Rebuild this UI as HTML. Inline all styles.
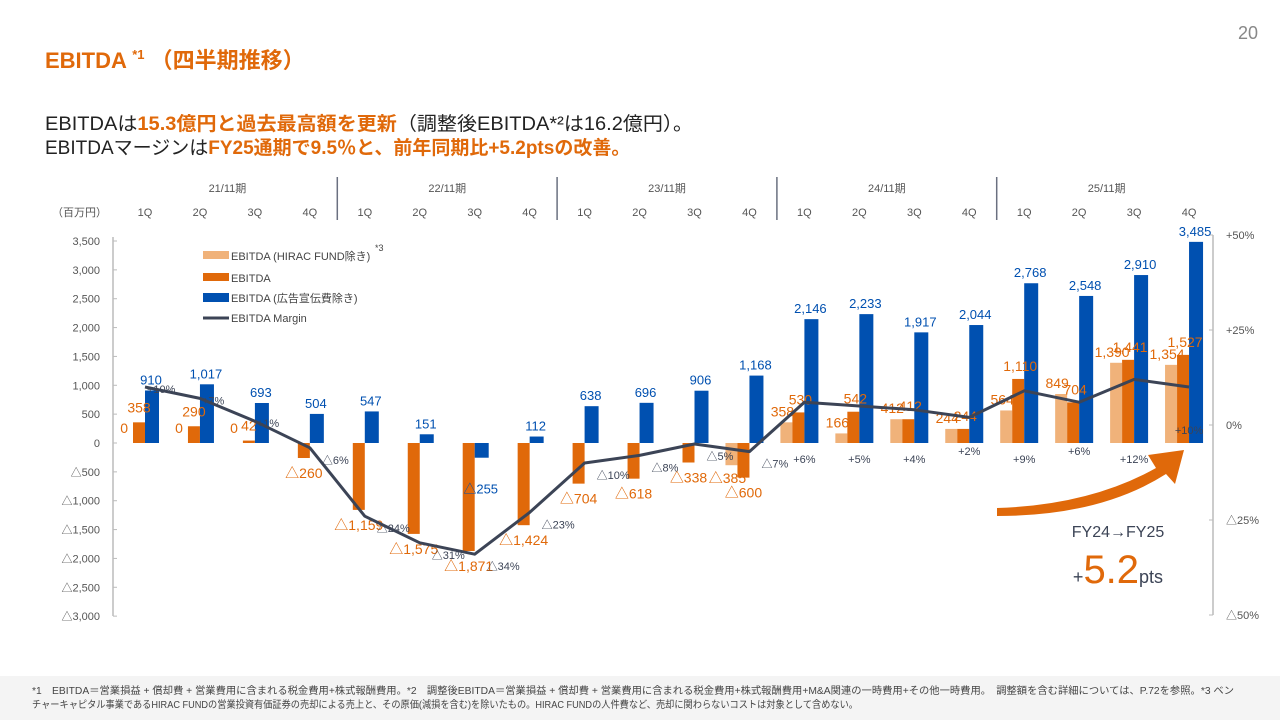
<!DOCTYPE html>
<html><head><meta charset="utf-8">
<style>
body{margin:0;width:1280px;height:720px;background:#fff;overflow:hidden;font-family:"Liberation Sans","Noto Sans CJK JP",sans-serif;}
svg text{font-family:"Liberation Sans","Noto Sans CJK JP",sans-serif;}
</style></head><body>
<svg id="c" width="1280" height="720">
<text x="1258" y="39" font-size="18" fill="#888" text-anchor="end">20</text>
<text x="45" y="68" font-size="22" font-weight="bold" fill="#e0690a">EBITDA <tspan font-size="13" dy="-9">*1</tspan><tspan dy="9"> （四半期推移）</tspan></text>
<text x="45" y="130" font-size="19" fill="#222" textLength="648" lengthAdjust="spacingAndGlyphs">EBITDAは<tspan fill="#e0690a" font-weight="bold">15.3億円と過去最高額を更新</tspan>（調整後EBITDA*²は16.2億円）。</text>
<text x="45" y="154" font-size="19" fill="#222">EBITDAマージンは<tspan fill="#e0690a" font-weight="bold">FY25通期で9.5％と、前年同期比+5.2ptsの改善。</tspan></text>
<g id="hdr"></g>
<g id="axes"></g>
<g id="marks"></g>
<g id="legend">
<rect x="203" y="251" width="26" height="8" fill="#f0b27a"/>
<text x="231" y="260" font-size="11" fill="#444">EBITDA (HIRAC FUND除き)</text>
<text x="375" y="251" font-size="9" fill="#444">*3</text>
<rect x="203" y="273" width="26" height="8" fill="#e0690a"/>
<text x="231" y="282" font-size="11" fill="#444">EBITDA</text>
<rect x="203" y="293" width="26" height="9" fill="#0050b0"/>
<text x="231" y="302" font-size="11" fill="#444">EBITDA (広告宣伝費除き)</text>
<line x1="203" y1="318" x2="229" y2="318" stroke="#3c4456" stroke-width="3"/>
<text x="231" y="322" font-size="11" fill="#444">EBITDA Margin</text>
</g>
<path d="M997,508 Q1090,505 1156,468 L1148,455 L1184,450 L1175,484 L1166,474 Q1100,516 997,516 Z" fill="#e0690a"/>
<text x="1118" y="537" font-size="16" fill="#3c4456" text-anchor="middle">FY24→FY25</text>
<text x="1118" y="583" text-anchor="middle" fill="#3c4456"><tspan font-size="18">+</tspan><tspan font-size="40" fill="#e0690a">5.2</tspan><tspan font-size="18">pts</tspan></text>
<rect x="0" y="676" width="1280" height="44" fill="#f4f4f4"/>
<text x="32" y="694" font-size="10" fill="#444" textLength="1202" lengthAdjust="spacingAndGlyphs">*1　EBITDA＝営業損益 + 償却費 + 営業費用に含まれる税金費用+株式報酬費用。*2　調整後EBITDA＝営業損益 + 償却費 + 営業費用に含まれる税金費用+株式報酬費用+M&amp;A関連の一時費用+その他一時費用。　調整額を含む詳細については、P.72を参照。*3 ベン</text>
<text x="32" y="708" font-size="10" fill="#444" textLength="826" lengthAdjust="spacingAndGlyphs">チャーキャピタル事業であるHIRAC FUNDの営業投資有価証券の売却による売上と、その原価(減損を含む)を除いたもの。HIRAC FUNDの人件費など、売却に関わらないコストは対象として含めない。</text>
</svg>
<script>
const periods=["21/11期","22/11期","23/11期","24/11期","25/11期"];
const quarters=["1Q","2Q","3Q","4Q"];
const ebitda=[358,290,42,-260,-1159,-1575,-1871,-1424,-704,-618,-338,-600,530,542,412,244,1110,704,1441,1527];
const ebitdaFund=[0,0,0,null,null,null,null,null,null,null,null,-385,358,166,412,244,564,849,1390,1354];
const ebitdaAdex=[910,1017,693,504,547,151,-255,112,638,696,906,1168,2146,2233,1917,2044,2768,2548,2910,3485];
const margin=[10,7,1,-6,-24,-31,-34,-23,-10,-8,-5,-7,6,5,4,2,9,6,12,10];
const leftTicks=[3500,3000,2500,2000,1500,1000,500,0,-500,-1000,-1500,-2000,-2500,-3000];
const rightTicks=[50,25,0,-25,-50];
const NS="http://www.w3.org/2000/svg";
function el(p,t,a){const e=document.createElementNS(NS,t);for(const k in a)e.setAttribute(k,a[k]);p.appendChild(e);return e;}
const xq=i=>145+i*54.95;
const yL=v=>443-v*(202/3500);
const yR=v=>425-v*3.8;
const fmt=v=>(v<0?"△":"")+Math.abs(v).toLocaleString("en-US");
const pct=v=>(v<0?"△":(v>0?"+":""))+Math.abs(v)+"%";
const hdr=document.getElementById("hdr"),ax=document.getElementById("axes"),mk=document.getElementById("marks");
periods.forEach((p,j)=>{
 const t=el(hdr,"text",{x:xq(j*4+1.5),y:192,"font-size":11,fill:"#555","text-anchor":"middle"});t.textContent=p;
 
 
 if(j>0){const l=el(hdr,"line",{x1:xq(j*4)-27.5,x2:xq(j*4)-27.5,y1:177,y2:220,stroke:"#6a7080","stroke-width":1.5});
 
 }
});
for(let i=0;i<20;i++){const t=el(hdr,"text",{x:xq(i),y:216,"font-size":11,fill:"#555","text-anchor":"middle"});t.textContent=quarters[i%4];
 
 }
const u=el(hdr,"text",{x:52,y:216,"font-size":11,fill:"#555"});u.textContent="（百万円）";


const la=el(ax,"line",{x1:113,x2:113,y1:237,y2:616,stroke:"#bbb","stroke-width":1.5});


leftTicks.forEach(v=>{const t=el(ax,"text",{x:100,y:yL(v)+4,"font-size":11,fill:"#555","text-anchor":"end"});t.textContent=fmt(v);
 
 
 el(ax,"line",{x1:113,x2:117,y1:yL(v),y2:yL(v),stroke:"#bbb"});});
const ra=el(ax,"line",{x1:1213,x2:1213,y1:235,y2:615,stroke:"#bbb","stroke-width":1.5});


rightTicks.forEach(v=>{const t=el(ax,"text",{x:1226,y:yR(v)+4,"font-size":11,fill:"#555"});t.textContent=pct(v);
 
 
 el(ax,"line",{x1:1209,x2:1213,y1:yR(v),y2:yR(v),stroke:"#bbb"});});
function bar(v,x,w,fill,name){const y0=yL(0),y1=yL(v);const r=el(mk,"rect",{x:x,y:Math.min(y0,y1),width:w,height:Math.max(1,Math.abs(y1-y0)),fill:fill});
 
 return r;}
function lab(txt,x,y,col,size,name,anchor){const t=el(mk,"text",{x:x,y:y,"font-size":size,fill:col,"text-anchor":anchor||"middle"});t.textContent=txt;
 
 }
for(let i=0;i<20;i++){
 const c=xq(i);
 if(ebitdaFund[i]!==null&&ebitdaFund[i]!==0)bar(ebitdaFund[i],c-24,12,"#f0b27a","bar-ebitda-fund");
 bar(ebitda[i],c-12,12,"#e0690a","bar-ebitda");
 bar(ebitdaAdex[i],c,14,"#0050b0","bar-ebitda-adex");
 const b=ebitdaAdex[i];
 lab(fmt(b),c+6,b>=0?yL(b)-6:yL(b)+36,"#0050b0",13,"value-label-adex");
 const o=ebitda[i];
 if(i<12){
  if(o>=0)lab(fmt(o),c-6,yL(o)-10,"#e0690a",14,"value-label-ebitda");
  else lab(fmt(o),c-6,yL(o)+20,"#e0690a",14,"value-label-ebitda");
 } else {
  lab(fmt(o),c-4,yL(o)-8,"#e0690a",14,"value-label-ebitda");
 }
 const f=ebitdaFund[i];
 if(f!==null&&i>=11){lab(fmt(f),c-22,f>=0?yL(f)-6:yL(f)+18,"#e0690a",14,"value-label-fund");}
 if(f===0){lab("0",c-17,yL(0)-10,"#e0690a",14,"value-label-fund","end");}
}
let d="";margin.forEach((m,i)=>{d+=(i?"L":"M")+xq(i)+","+yR(m);});
const pl=el(mk,"path",{d:d,fill:"none",stroke:"#3c4456","stroke-width":3,"stroke-linejoin":"round"});


margin.forEach((m,i)=>{
 const c=xq(i);let x=c+12,y=yR(m)+16,a="start";
 if(i<3){y=yR(m)+6;x=c+2;}
 if(i>=12){x=c;y=463;a="middle";if(i==15)y=455;if(i==17)y=455;if(i==19)y=434;}
 lab(pct(m),x,y,"#3c4456",11,"margin-label",a);
});
</script>
</body></html>
